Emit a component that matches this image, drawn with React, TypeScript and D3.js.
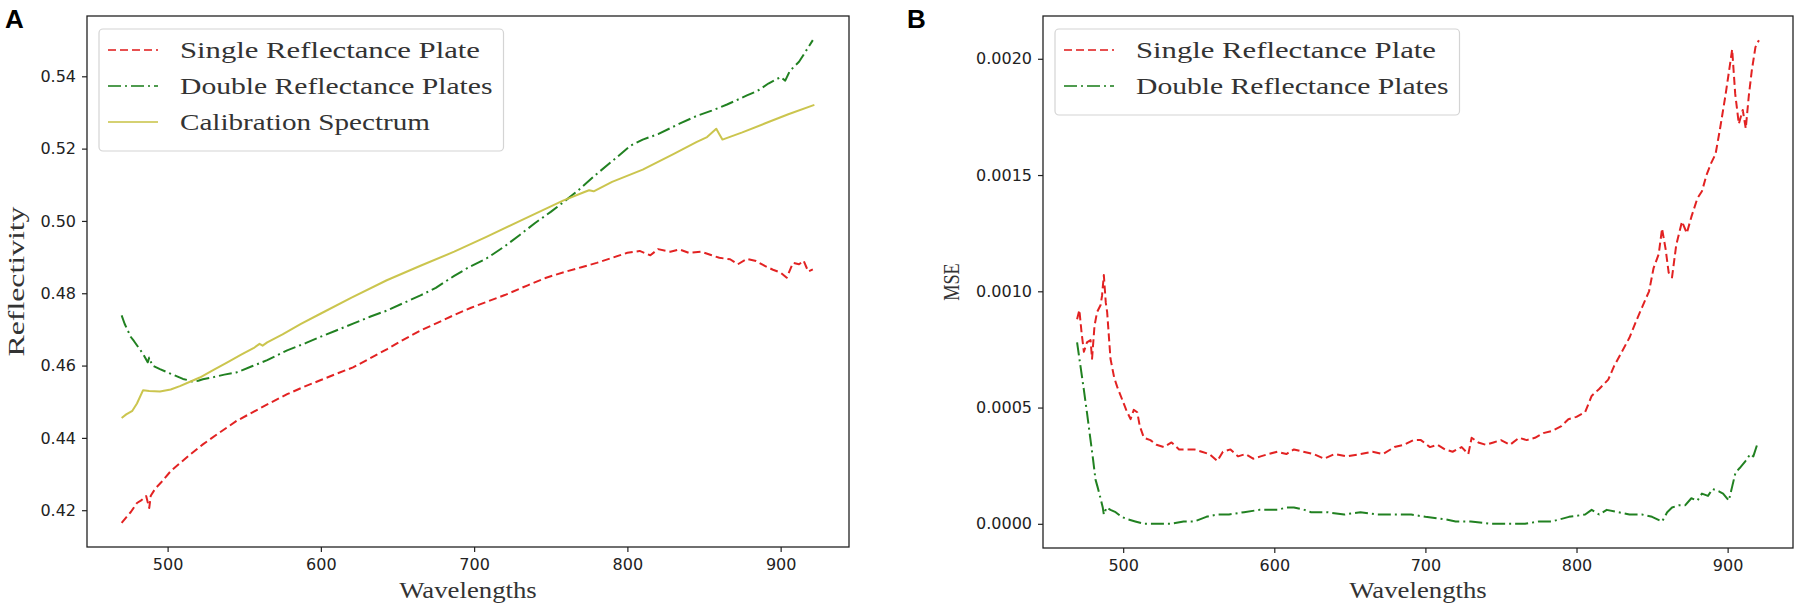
import { useEffect, useRef } from "react";
import * as d3 from "d3";

type Pt = [number, number];

// tick labels
const xTicks = [500, 600, 700, 800, 900];
const reflTicks = [0.42, 0.44, 0.46, 0.48, 0.5, 0.52, 0.54];
const mseTicks = [0, 0.0005, 0.001, 0.0015, 0.002];

// panel A: reflectivity vs wavelength
const singleRefl: Pt[] = [
  [470, 0.4165], [473, 0.418], [476, 0.4195], [480, 0.422], [483, 0.4228], [486, 0.4239],
  [488, 0.4206], [489, 0.424], [492, 0.426], [496, 0.4278], [502, 0.4308], [508, 0.433],
  [515, 0.4355], [523, 0.4382], [534, 0.4415], [545, 0.4447], [556, 0.4472], [567, 0.4497],
  [578, 0.4521], [590, 0.4543], [600, 0.456], [610, 0.4577], [621, 0.4595], [632, 0.462],
  [643, 0.4645], [654, 0.4672], [665, 0.4697], [676, 0.4718], [687, 0.474], [698, 0.476],
  [708, 0.4776], [720, 0.4795], [735, 0.4822], [747, 0.4843], [760, 0.486], [770, 0.4872],
  [780, 0.4884], [790, 0.4898], [800, 0.4912], [808, 0.4917], [815, 0.4905], [820, 0.4922],
  [828, 0.4915], [834, 0.4921], [840, 0.4912], [848, 0.4915], [855, 0.4905], [860, 0.4898],
  [867, 0.4894], [872, 0.488], [878, 0.4895], [884, 0.4889], [890, 0.4875], [895, 0.4865],
  [900, 0.4857], [904, 0.4843], [908, 0.4884], [912, 0.488], [915, 0.489], [918, 0.486],
  [921, 0.4866],
];

const doubleRefl: Pt[] = [
  [470, 0.4739], [472, 0.4715], [476, 0.4679], [478, 0.4668], [481, 0.465], [484, 0.4632],
  [487, 0.4609], [488, 0.4622], [490, 0.46], [495, 0.459], [500, 0.4581], [505, 0.4572],
  [510, 0.4563], [513, 0.456], [516, 0.4556], [520, 0.4558], [523, 0.4562], [530, 0.4568],
  [537, 0.4575], [545, 0.4581], [555, 0.4598], [565, 0.4615], [578, 0.4642], [590, 0.4662],
  [600, 0.468], [610, 0.4697], [621, 0.4716], [632, 0.4735], [643, 0.4752], [655, 0.4775],
  [665, 0.4794], [675, 0.4815], [687, 0.4848], [697, 0.4873], [708, 0.4896], [720, 0.493],
  [730, 0.4962], [740, 0.4995], [750, 0.5025], [758, 0.5051], [768, 0.5085], [780, 0.513],
  [790, 0.5165], [802, 0.5208], [810, 0.5225], [820, 0.524], [834, 0.5269], [845, 0.529],
  [855, 0.5305], [865, 0.5322], [878, 0.5347], [885, 0.536], [892, 0.538], [900, 0.5398],
  [903, 0.5388], [906, 0.5415], [912, 0.544], [918, 0.548], [921, 0.55],
];

const calibration: Pt[] = [
  [470, 0.4455], [473, 0.4465], [477, 0.4475], [480, 0.4495], [484, 0.4532], [488, 0.453],
  [495, 0.4528], [502, 0.4534], [508, 0.4543], [515, 0.4556], [521, 0.4567], [530, 0.4588],
  [539, 0.4609], [548, 0.463], [556, 0.4648], [560, 0.466], [562, 0.4655], [565, 0.4664],
  [575, 0.4686], [587, 0.4715], [600, 0.4744], [620, 0.4788], [643, 0.4836], [665, 0.4876],
  [687, 0.4915], [708, 0.4956], [730, 0.5], [758, 0.5056], [772, 0.508], [775, 0.5085],
  [778, 0.5082], [790, 0.5108], [810, 0.5142], [830, 0.5185], [845, 0.5218], [852, 0.5232],
  [858, 0.5255], [860, 0.524], [862, 0.5225], [875, 0.5245], [890, 0.527], [905, 0.5295],
  [922, 0.5321],
];

// panel B: MSE vs wavelength
const singleMse: Pt[] = [
  [469.5, 0.00088], [471, 0.00092], [472.5, 0.00082], [474, 0.00074], [476, 0.00078],
  [478.4, 0.00079], [479.4, 0.00071], [481, 0.00085], [482.7, 0.00091], [485, 0.00094],
  [486, 0.00098], [487.2, 0.00107], [488.5, 0.00095], [489.4, 0.00091], [491.6, 0.00071],
  [494, 0.00063], [496, 0.00059], [499, 0.00054], [502, 0.00049], [504.9, 0.00045],
  [507, 0.00049], [509.3, 0.00048], [511, 0.00042], [513.7, 0.00037], [518, 0.00036],
  [522, 0.00034], [527, 0.00033], [532, 0.00035], [537, 0.00032], [542, 0.00032],
  [547, 0.00032], [552, 0.00031], [557, 0.0003], [562.3, 0.00027], [566, 0.00031],
  [571, 0.00032], [576, 0.00029], [581, 0.0003], [586, 0.00028], [591, 0.00029],
  [596, 0.0003], [602, 0.00031], [608, 0.0003], [613, 0.00032], [619, 0.00031],
  [626, 0.0003], [633, 0.00028], [640, 0.0003], [648, 0.00029], [657, 0.0003],
  [665, 0.00031], [672, 0.0003], [679.5, 0.00033], [686, 0.00034], [692, 0.00036],
  [697, 0.00036], [703, 0.00033], [708, 0.00034], [713, 0.00032], [718, 0.00031],
  [724, 0.00033], [728.4, 0.0003], [730.6, 0.00037], [735, 0.00035], [740, 0.00034],
  [745, 0.00035], [750, 0.00036], [756, 0.00034], [762, 0.00037], [767, 0.00036],
  [772.5, 0.00037], [778, 0.00039], [784, 0.0004], [790, 0.00042], [794.6, 0.00045],
  [800, 0.00046], [805.7, 0.00048], [810, 0.00055], [815, 0.00058], [821, 0.00062],
  [825, 0.00068], [830, 0.00074], [835, 0.0008], [840, 0.00088], [843.3, 0.00093],
  [848, 0.001], [851, 0.0011], [854.4, 0.00116], [856.6, 0.00127], [859, 0.00118],
  [861, 0.00108], [863.2, 0.00106], [866, 0.0012], [869.8, 0.0013], [873, 0.00125],
  [876, 0.00132], [880, 0.0014], [883, 0.00143], [886, 0.0015], [889, 0.00155],
  [892, 0.00159], [895, 0.0017], [898.5, 0.00184], [901, 0.00195], [903, 0.00204],
  [905, 0.00185], [907.4, 0.00172], [910, 0.00178], [912, 0.0017], [914, 0.00184],
  [916, 0.00195], [918.4, 0.00205], [920.7, 0.00208],
];

const doubleMse: Pt[] = [
  [469.5, 0.00078], [471.7, 0.00068], [473.9, 0.00058], [476, 0.00048], [478.4, 0.00036],
  [480, 0.00028], [481.7, 0.00019], [483, 0.00016], [485, 0.00011], [486.5, 0.00007],
  [487.2, 0.00004], [489, 0.00007], [491.6, 0.00006], [495, 0.00005], [499, 0.00003],
  [502.6, 0.00002], [508, 0.00001], [513.7, 0], [520, 0], [525, 0], [531.4, 0],
  [540, 0.00001], [547, 0.00001], [555, 0.00003], [562.3, 0.00004], [570, 0.00004],
  [580, 0.00005], [590, 0.00006], [602, 0.00006], [608, 0.00007], [613, 0.00007],
  [620, 0.00006], [624.3, 0.00005], [635, 0.00005], [646.3, 0.00004], [657, 0.00005],
  [668.4, 0.00004], [680, 0.00004], [690.6, 0.00004], [700, 0.00003], [712.7, 0.00002],
  [720, 0.00001], [730, 0.00001], [743.8, 0], [755, 0], [765.9, 0], [775, 0.00001],
  [783.6, 0.00001], [795, 0.00003], [805.7, 0.00004], [810, 0.00006], [815, 0.00004],
  [820, 0.00006], [827.8, 0.00005], [835, 0.00004], [843.3, 0.00004], [850, 0.00003],
  [856.6, 0.00001], [860, 0.00005], [863.2, 0.00007], [868, 0.00008], [872, 0.00008],
  [876, 0.00011], [880, 0.0001], [883, 0.00013], [887, 0.00012], [890, 0.00015],
  [894.2, 0.00014], [897, 0.00013], [900.8, 0.0001], [903, 0.00016], [905.2, 0.00022],
  [908, 0.00024], [911.8, 0.00027], [915, 0.0003], [917, 0.00029], [919.5, 0.00034],
];

interface Series {
  label: string;
  data: Pt[];
  color: string;
  dash: string | null;
}

interface PanelConfig {
  letter: string;
  letterX: number;
  left: number;
  right: number;
  top: number;
  bottom: number;
  yLabel: string;
  yLabelX: number;
  yTicks: number[];
  yFormat: (v: number) => string;
  series: Series[];
}

const RED = "#e01616";
const GREEN = "#157a15";
const OLIVE = "#c8c244";
const DASHED = "8,4";
const DASHDOT = "13,4,2,4";

const LABEL_FONT = "'Liberation Serif', 'DejaVu Serif', serif";
const TICK_FONT = "'DejaVu Sans', sans-serif";
const CHAR_W = 12.5; // width per character of the monospace-looking labels

const panels: PanelConfig[] = [
  {
    letter: "A",
    letterX: 5,
    left: 87,
    right: 849,
    top: 16,
    bottom: 547,
    yLabel: "Reflectivity",
    yLabelX: 17,
    yTicks: reflTicks,
    yFormat: d3.format(".2f"),
    series: [
      { label: "Single Reflectance Plate", data: singleRefl, color: RED, dash: DASHED },
      { label: "Double Reflectance Plates", data: doubleRefl, color: GREEN, dash: DASHDOT },
      { label: "Calibration Spectrum", data: calibration, color: OLIVE, dash: null },
    ],
  },
  {
    letter: "B",
    letterX: 907,
    left: 1043,
    right: 1793,
    top: 16,
    bottom: 548,
    yLabel: "MSE",
    yLabelX: 952,
    yTicks: mseTicks,
    yFormat: d3.format(".4f"),
    series: [
      { label: "Single Reflectance Plate", data: singleMse, color: RED, dash: DASHED },
      { label: "Double Reflectance Plates", data: doubleMse, color: GREEN, dash: DASHDOT },
    ],
  },
];

// matplotlib-style 5% margin around the data extent
const padded = (lo: number, hi: number): [number, number] => {
  const m = (hi - lo) * 0.05;
  return [lo - m, hi + m];
};

const App = () => {
  const svgRef = useRef<SVGSVGElement>(null);

  useEffect(() => {
    if (!svgRef.current) return;
    document.body.style.margin = "0";

    const svg = d3.select(svgRef.current);
    svg.selectAll("*").remove();

    panels.forEach((p) => {
      const all = p.series.flatMap((s) => s.data);
      const [x0, x1] = d3.extent(all, (d) => d[0]) as [number, number];
      const [y0, y1] = d3.extent(all, (d) => d[1]) as [number, number];

      const x = d3.scaleLinear().domain(padded(x0, x1)).range([p.left, p.right]);
      const y = d3.scaleLinear().domain(padded(y0, y1)).range([p.bottom, p.top]);

      const g = svg.append("g");

      // panel letter
      g.append("text")
        .attr("x", p.letterX)
        .attr("y", 28)
        .attr("font-family", "'Liberation Sans', Arial, sans-serif")
        .attr("font-weight", 700)
        .attr("font-size", 26)
        .attr("fill", "#000")
        .text(p.letter);

      // data lines
      const line = d3
        .line<Pt>()
        .x((d) => x(d[0]))
        .y((d) => y(d[1]));

      p.series.forEach((s) => {
        g.append("path")
          .datum(s.data)
          .attr("d", line)
          .attr("fill", "none")
          .attr("stroke", s.color)
          .attr("stroke-width", 2)
          .attr("stroke-linejoin", "round")
          .attr("stroke-dasharray", s.dash)
          .attr("opacity", 0.95);
      });

      // axes
      const xAxis = g
        .append("g")
        .attr("transform", `translate(0,${p.bottom})`)
        .call(d3.axisBottom(x).tickValues(xTicks).tickSize(5).tickPadding(7).tickFormat(d3.format("d")));
      const yAxis = g
        .append("g")
        .attr("transform", `translate(${p.left},0)`)
        .call(d3.axisLeft(y).tickValues(p.yTicks).tickSize(5).tickPadding(6).tickFormat(p.yFormat as any));

      [xAxis, yAxis].forEach((ax) => {
        ax.select(".domain").remove();
        ax.selectAll("line").attr("stroke", "#222").attr("stroke-width", 1.2);
        ax.selectAll("text").attr("font-family", TICK_FONT).attr("font-size", 16).attr("fill", "#222");
      });

      // frame
      g.append("rect")
        .attr("x", p.left)
        .attr("y", p.top)
        .attr("width", p.right - p.left)
        .attr("height", p.bottom - p.top)
        .attr("fill", "none")
        .attr("stroke", "#222")
        .attr("stroke-width", 1.3);

      // axis titles
      const cx = (p.left + p.right) / 2;
      const cy = (p.top + p.bottom) / 2;
      g.append("text")
        .attr("x", cx)
        .attr("y", 598)
        .attr("text-anchor", "middle")
        .attr("font-family", LABEL_FONT)
        .attr("font-size", 24)
        .attr("fill", "#333")
        .attr("textLength", "Wavelengths".length * CHAR_W)
        .attr("lengthAdjust", "spacingAndGlyphs")
        .text("Wavelengths");

      g.append("text")
        .attr("transform", `translate(${p.yLabelX + 7},${cy}) rotate(-90)`)
        .attr("text-anchor", "middle")
        .attr("font-family", LABEL_FONT)
        .attr("font-size", 24)
        .attr("fill", "#333")
        .attr("textLength", p.yLabel.length * CHAR_W)
        .attr("lengthAdjust", "spacingAndGlyphs")
        .text(p.yLabel);

      // legend
      const maxChars = d3.max(p.series, (s) => s.label.length) ?? 0;
      const boxX = p.left + 12;
      const boxY = p.top + 13;
      const rowH = 36;
      const boxW = 81 + maxChars * CHAR_W + 11;
      const boxH = 10 + p.series.length * rowH + 4;

      const lg = g.append("g");
      lg.append("rect")
        .attr("x", boxX)
        .attr("y", boxY)
        .attr("width", boxW)
        .attr("height", boxH)
        .attr("rx", 4)
        .attr("fill", "rgba(255,255,255,0.85)")
        .attr("stroke", "#d4d4d4")
        .attr("stroke-width", 1.2);

      p.series.forEach((s, i) => {
        const ry = boxY + 21 + i * rowH;
        lg.append("line")
          .attr("x1", boxX + 9)
          .attr("x2", boxX + 59)
          .attr("y1", ry)
          .attr("y2", ry)
          .attr("stroke", s.color)
          .attr("stroke-width", 2)
          .attr("stroke-dasharray", s.dash)
          .attr("opacity", 0.75);
        lg.append("text")
          .attr("x", boxX + 81)
          .attr("y", ry + 8)
          .attr("font-family", LABEL_FONT)
          .attr("font-size", 24)
          .attr("fill", "#333")
          .attr("textLength", s.label.length * CHAR_W)
          .attr("lengthAdjust", "spacingAndGlyphs")
          .text(s.label);
      });
    });
  }, []);

  return <svg ref={svgRef} width={1800} height={611} style={{ display: "block", background: "#fff" }} />;
};

export default App;
